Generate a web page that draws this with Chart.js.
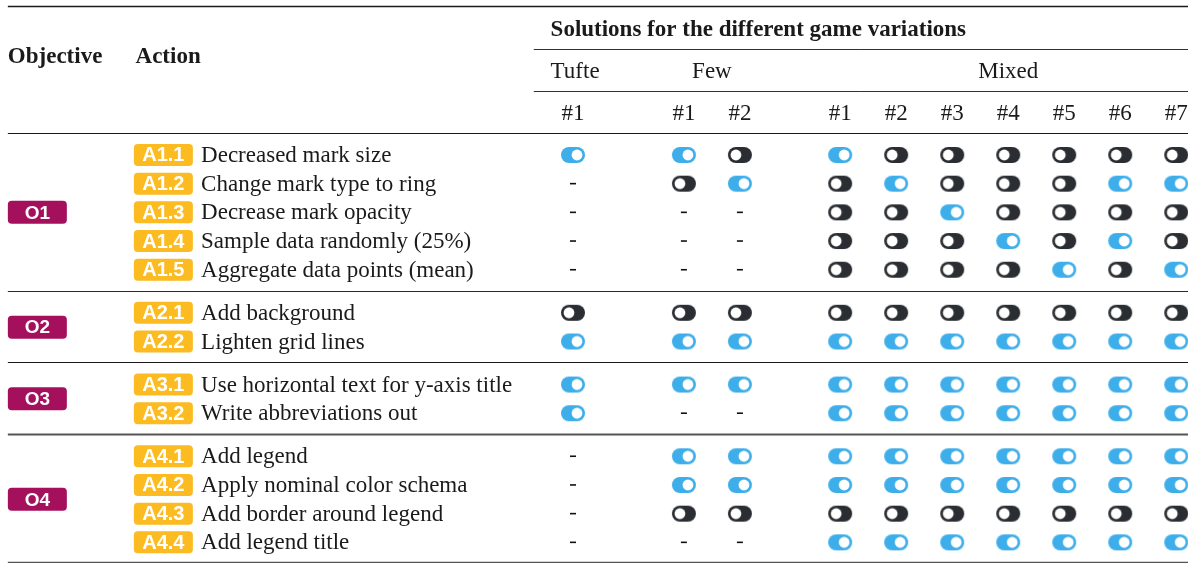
<!DOCTYPE html>
<html>
<head>
<meta charset="utf-8">
<title>Solutions for the different game variations</title>
<script src="https://cdn.jsdelivr.net/npm/chart.js@4.4.0/dist/chart.umd.min.js"></script>
<style>
    html, body { margin: 0; padding: 0; background: #fff; }
    #wrap { width: 1188px; height: 563px; position: relative; }
</style>
</head>
<body>
<div id="wrap"><canvas id="solutionChart"></canvas></div>
<script>
// --- table content ---
const objectives = ['O1', 'O2', 'O3', 'O4'];
const actionsPerObjective = [5, 2, 2, 4];
const actionIds = ['A1.1', 'A1.2', 'A1.3', 'A1.4', 'A1.5', 'A2.1', 'A2.2', 'A3.1', 'A3.2', 'A4.1', 'A4.2', 'A4.3', 'A4.4'];
const actionNames = [
    'Decreased mark size',
    'Change mark type to ring',
    'Decrease mark opacity',
    'Sample data randomly (25%)',
    'Aggregate data points (mean)',
    'Add background',
    'Lighten grid lines',
    'Use horizontal text for y-axis title',
    'Write abbreviations out',
    'Add legend',
    'Apply nominal color schema',
    'Add border around legend',
    'Add legend title'
];
const variations = ['Tufte', 'Few', 'Mixed'];
const columnLabels = ['#1', '#1', '#2', '#1', '#2', '#3', '#4', '#5', '#6', '#7'];
const columnVariation = [0, 1, 1, 2, 2, 2, 2, 2, 2, 2];

// 1 = switched on, 0 = switched off, null = not part of that game
const tufte1 = [1, null, null, null, null, 0, 1, 1, 1, null, null, null, null];
const few1   = [1, 0, null, null, null, 0, 1, 1, null, 1, 1, 0, null];
const few2   = [0, 1, null, null, null, 0, 1, 1, null, 1, 1, 0, null];
const mixed1 = [1, 0, 0, 0, 0, 0, 1, 1, 1, 1, 1, 0, 1];
const mixed2 = [0, 1, 0, 0, 0, 0, 1, 1, 1, 1, 1, 0, 1];
const mixed3 = [0, 0, 1, 0, 0, 0, 1, 1, 1, 1, 1, 0, 1];
const mixed4 = [0, 0, 0, 1, 0, 0, 1, 1, 1, 1, 1, 0, 1];
const mixed5 = [0, 0, 0, 0, 1, 0, 1, 1, 1, 1, 1, 0, 1];
const mixed6 = [0, 1, 0, 1, 0, 0, 1, 1, 1, 1, 1, 0, 1];
const mixed7 = [0, 1, 0, 0, 1, 0, 1, 1, 1, 1, 1, 0, 1];
const solutions = [tufte1, few1, few2, mixed1, mixed2, mixed3, mixed4, mixed5, mixed6, mixed7];

// --- layout (scale units) ---
const columnPos = [0, 1.98, 2.98, 4.77, 5.77, 6.77, 7.77, 8.77, 9.77, 10.77];
const groupGap = 0.5;

const rowPos = [];
const groupCenter = [];
let r = 0;
actionsPerObjective.forEach((n) => {
    const start = r;
    for (let i = 0; i < n; i++) { rowPos.push(r); r++; }
    groupCenter.push((start + r - 1) / 2);
    r += groupGap;
});

const BLUE = '#3daee9';
const DARK = '#2a2e32';
const SERIF = '"Liberation Serif", "DejaVu Serif", serif';
const SANS = '"Liberation Sans", Arial, sans-serif';

const roundedRect = (g, x, y, w, h, rad) => {
    g.beginPath();
    g.moveTo(x + rad, y);
    g.lineTo(x + w - rad, y);
    g.arc(x + w - rad, y + rad, rad, -Math.PI / 2, 0);
    g.lineTo(x + w, y + h - rad);
    g.arc(x + w - rad, y + h - rad, rad, 0, Math.PI / 2);
    g.lineTo(x + rad, y + h);
    g.arc(x + rad, y + h - rad, rad, Math.PI / 2, Math.PI);
    g.lineTo(x, y + rad);
    g.arc(x + rad, y + rad, rad, Math.PI, Math.PI * 1.5);
    g.closePath();
};

const makeToggle = (on) => {
    const c = document.createElement('canvas');
    c.width = 26;
    c.height = 18;
    const g = c.getContext('2d');
    roundedRect(g, 1, 1, 24, 16, 8);
    g.fillStyle = on ? BLUE : DARK;
    g.fill();
    g.beginPath();
    g.arc(on ? 17 : 9, 9, 5.4, 0, Math.PI * 2);
    g.fillStyle = '#fff';
    g.fill();
    return c;
};

const onPoints = [], offPoints = [], naPoints = [];
solutions.forEach((col, ci) => {
    col.forEach((v, ri) => {
        const p = { x: columnPos[ci], y: rowPos[ri] };
        if (v === 1) onPoints.push(p);
        else if (v === 0) offPoints.push(p);
        else naPoints.push(p);
    });
});

const tablePlugin = {
    id: 'tableText',
    beforeDatasetsDraw(chart) {
        const { ctx, scales: { x, y } } = chart;
        const right = chart.chartArea.right;

        const hline = (v, from, color, width) => {
            ctx.save();
            ctx.strokeStyle = color;
            ctx.lineWidth = width;
            ctx.beginPath();
            const py = Math.round(y.getPixelForValue(v)) + 0.5;
            ctx.moveTo(x.getPixelForValue(from), py);
            ctx.lineTo(right, py);
            ctx.stroke();
            ctx.restore();
        };
        const text = (s, xv, yv, font, align, color) => {
            ctx.save();
            ctx.font = font;
            ctx.textAlign = align;
            ctx.textBaseline = 'middle';
            ctx.fillStyle = color || '#1a1a1a';
            ctx.fillText(s, x.getPixelForValue(xv), y.getPixelForValue(yv) + 1);
            ctx.restore();
        };
        const badge = (label, xv, yv, w, h, fill, font) => {
            const px = x.getPixelForValue(xv);
            const py = y.getPixelForValue(yv);
            ctx.save();
            roundedRect(ctx, px, py - h / 2, w, h, 4);
            ctx.fillStyle = fill;
            ctx.fill();
            ctx.font = font;
            ctx.textAlign = 'center';
            ctx.textBaseline = 'middle';
            ctx.fillStyle = '#fff';
            ctx.fillText(label, px + w / 2, py + 1);
            ctx.restore();
        };

        // rules
        hline(-5.19, -10.09, '#1a1a1a', 1.6);
        hline(-3.69, -0.70, '#1a1a1a', 0.9);
        hline(-2.23, -0.70, '#1a1a1a', 0.9);
        hline(-0.77, -10.09, '#1a1a1a', 1.2);
        hline(4.75, -10.09, '#2a2a2a', 1.2);
        hline(7.22, -10.09, '#1a1a1a', 1.2);
        hline(9.72, -10.09, '#555', 1.8);
        hline(14.17, -10.09, '#555', 1.4);

        // header
        const bold = 'bold 23px ' + SERIF;
        const reg = '23px ' + SERIF;
        text('Objective', -10.09, -3.45, bold, 'left');
        text('Action', -7.81, -3.45, bold, 'left');
        text('Solutions for the different game variations', -0.40, -4.39, bold, 'left');
        variations.forEach((name, vi) => {
            const cols = columnPos.filter((_, ci) => columnVariation[ci] === vi);
            if (vi === 0) text(name, -0.40, -2.93, reg, 'left');
            else if (vi === 1) text(name, (cols[0] + cols[cols.length - 1]) / 2, -2.93, reg, 'center');
            else text(name, cols[3], -2.93, reg, 'center');
        });
        columnLabels.forEach((lab, ci) => text(lab, columnPos[ci], -1.46, reg, 'center'));

        // rows
        objectives.forEach((o, oi) => badge(o, -10.09, groupCenter[oi], 59, 23, '#a4105c', 'bold 19px ' + SANS));
        actionIds.forEach((a, ai) => {
            badge(a, -7.84, rowPos[ai], 59, 22, '#fcbb20', 'bold 20px ' + SANS);
            text(actionNames[ai], -6.64, rowPos[ai], reg, 'left');
        });
    }
};

const ctx = document.getElementById('solutionChart').getContext('2d');
const chart = new Chart(ctx, {
    type: 'scatter',
    data: {
        datasets: [
            { label: 'on', data: onPoints, pointStyle: makeToggle(true), pointRadius: 8, pointHoverRadius: 8 },
            { label: 'off', data: offPoints, pointStyle: makeToggle(false), pointRadius: 8, pointHoverRadius: 8 },
            { label: 'n/a', data: naPoints, pointStyle: 'line', pointRadius: 3, pointHoverRadius: 3,
              borderColor: '#111', pointBorderWidth: 1.6, pointHoverBorderWidth: 1.6 }
        ]
    },
    options: {
        responsive: true,
        maintainAspectRatio: false,
        animation: false,
        layout: { padding: 0, autoPadding: false },
        plugins: { legend: { display: false }, tooltip: { enabled: false } },
        scales: {
            x: { type: 'linear', display: false, min: -10.23, max: 10.98 },
            y: { type: 'linear', display: false, reverse: true, min: -5.4, max: 14.22 }
        }
    },
    plugins: [tablePlugin]
});
</script>
</body>
</html>
